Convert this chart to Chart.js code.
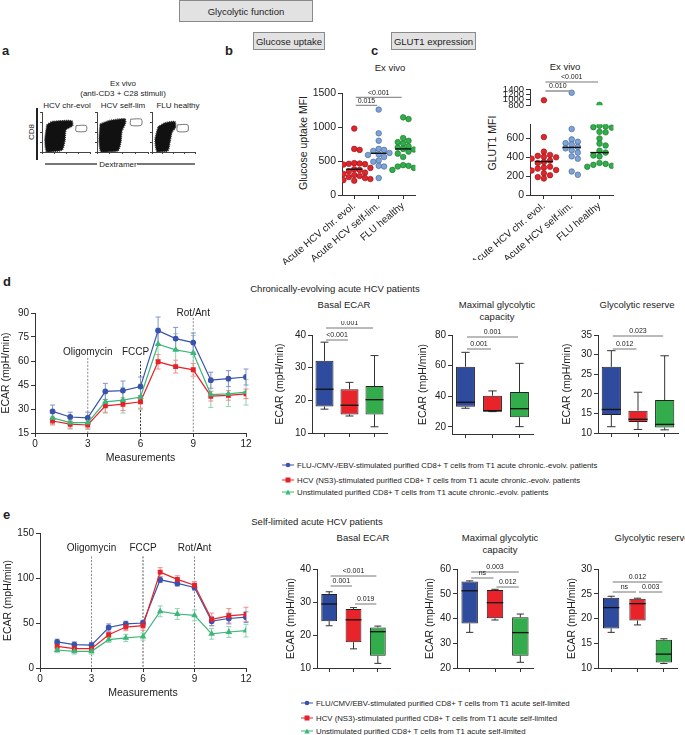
<!DOCTYPE html>
<html>
<head>
<meta charset="utf-8">
<script src="https://cdn.jsdelivr.net/npm/chart.js@4.4.1/dist/chart.umd.min.js"></script>
<style>
  body { margin: 0; background: #fff; width: 685px; height: 735px; position: relative; overflow: hidden;
         font-family: 'Liberation Sans', Arial, Helvetica, sans-serif; color: #222; }
  canvas { position: absolute; }
  .t { position: absolute; transform: translate(-50%, -50%); white-space: nowrap; font-size: 9.5px; }
  .sm { font-size: 8px; }
  .box { position: absolute; background: #e2e2e2; border: 1px solid #8a8a8a; box-sizing: border-box;
         font-size: 9.5px; display: flex; align-items: center; justify-content: center; }
  .L { position: absolute; font-weight: bold; font-size: 13px; transform: translateY(-50%); }
  .rot { transform: translate(-50%, -50%) rotate(-90deg); }
  .lg { position: absolute; font-size: 7.8px; white-space: nowrap; display: flex; align-items: center; transform: translateY(-50%); }
  .lg svg { margin-right: 3px; }
  .bar { position: absolute; background: #777; height: 2px; }
</style>
</head>
<body>
<div class="box" style="left:179px;top:0px;width:134px;height:22px">Glycolytic function</div>
<div class="box" style="left:253px;top:32px;width:72px;height:18px">Glucose uptake</div>
<div class="box" style="left:391px;top:32px;width:85px;height:18px">GLUT1 expression</div>

<div class="L" style="left:2px;top:50px">a</div>
<div class="L" style="left:225px;top:50px">b</div>
<div class="L" style="left:371px;top:50px">c</div>
<div class="L" style="left:3px;top:281px">d</div>
<div class="L" style="left:3px;top:514px">e</div>

<div class="t sm" style="left:123px;top:83px">Ex vivo</div>
<div class="t sm" style="left:123px;top:93px">(anti-CD3 + C28 stimuli)</div>
<div class="t sm" style="left:67px;top:105px">HCV chr-evol</div>
<div class="t sm" style="left:123px;top:105px">HCV self-lim</div>
<div class="t sm" style="left:178px;top:105px">FLU healthy</div>
<div class="t sm rot" style="left:31px;top:132px">CD8</div>
<div style="position:absolute;left:36px;top:108px;width:1.5px;height:52px;background:#222"></div>
<div class="bar" style="left:45px;top:163px;width:52px"></div>
<div class="bar" style="left:137px;top:163px;width:58px"></div>
<div class="t sm" style="left:118px;top:164px">Dextramer</div>

<div class="t" style="left:390px;top:67px">Ex vivo</div>
<div class="t" style="left:565px;top:66px">Ex vivo</div>
<div class="t rot" style="left:303px;top:143px;font-size:10.5px">Glucose uptake MFI</div>
<div class="t rot" style="left:492px;top:143px;font-size:10.5px">GLUT1 MFI</div>

<div class="t" style="left:335px;top:288px">Chronically-evolving acute HCV patients</div>
<div class="t" style="left:344px;top:304px">Basal ECAR</div>
<div class="t" style="left:497px;top:304px">Maximal glycolytic</div>
<div class="t" style="left:497px;top:316px">capacity</div>
<div class="t" style="left:637px;top:304px">Glycolytic reserve</div>

<div class="t" style="left:317px;top:521px">Self-limited acute HCV patients</div>
<div class="t" style="left:363px;top:537px">Basal ECAR</div>
<div class="t" style="left:500px;top:537px">Maximal glycolytic</div>
<div class="t" style="left:500px;top:549px">capacity</div>
<div class="t" style="left:652px;top:537px">Glycolytic reserve</div>

<script>
// ---------- data ----------
const groupNames = ['Acute HCV chr. evol.', 'Acute HCV self-lim.', 'FLU healthy'];

// b: glucose uptake MFI
const glucoseChr = [980, 680, 665, 470, 465, 460, 455, 450, 400, 380, 370, 350, 330, 310, 295, 280, 265, 250, 235, 220, 210];
const glucoseSelf = [1260, 910, 800, 680, 665, 650, 620, 600, 590, 560, 510, 490, 430, 420, 250];
const glucoseFlu = [1145, 1120, 840, 800, 780, 760, 720, 700, 680, 670, 640, 610, 560, 440, 430, 420, 400, 370];
const glucoseMedian = [380, 615, 680];
const glucoseTicks = [0, 500, 1000, 1500];
const glucoseP = ['<0.001', '0.015'];

// c: GLUT1 MFI
const glutChr = [980, 615, 460, 425, 415, 405, 400, 385, 365, 350, 340, 300, 290, 280, 265, 260, 230, 210, 190, 175];
const glutSelf = [1260, 700, 590, 565, 550, 535, 510, 495, 475, 450, 410, 385, 250, 215];
const glutFlu = [810, 735, 725, 720, 715, 670, 665, 600, 545, 525, 470, 450, 420, 410, 340, 330, 320, 310, 300, 290];
const glutMedian = [355, 505, 450];
const glutTicksHigh = [800, 1000, 1200, 1400];
const glutTicksLow = [0, 200, 400, 600];
const glutP = ['<0.001', '0.010'];

// d / e: ECAR time course
const measurements = [1, 2, 3, 4, 5, 6, 7, 8, 9, 10, 11, 12];
const chrFlu = [28.5, 25, 24.5, 41, 41.5, 44, 79, 74, 71.5, 48, 49, 50];
const chrFluErr = [4, 3, 3.5, 5, 6, 6, 8.5, 7, 6, 5, 5, 5];
const chrHcv = [22.5, 20.5, 20, 32, 33, 34.5, 59.5, 56.5, 54.5, 38, 38.5, 39.5];
const chrHcvErr = [2.5, 2.5, 2.5, 4, 4, 4, 4.5, 4, 4, 3, 3, 3];
const chrUnst = [24.5, 21.5, 21.5, 34.5, 35.5, 37.5, 70.5, 67, 65, 39, 39.5, 40.5];
const chrUnstErr = [4, 4, 4, 7, 8, 8, 10, 10, 11, 8, 8, 8];

const slfFlu = [29, 26, 25.5, 45, 49, 50, 98, 94, 89.5, 52, 55, 56.5];
const slfFluErr = [3, 3, 3, 4, 3, 3, 3, 3, 3, 5, 6, 6];
const slfHcv = [24, 21.5, 21.5, 37, 45.5, 47, 106.5, 98.5, 92, 54, 58, 59.5];
const slfHcvErr = [3, 3, 3, 3, 4, 5, 5, 4, 4, 7, 8, 8];
const slfUnst = [20, 18.5, 18.5, 31.5, 33.5, 35, 63, 60, 58.5, 38, 40, 41.5];
const slfUnstErr = [3, 3, 3, 3, 4, 4, 6, 6, 6, 6, 6, 7];

// box stats: [min, q1, median, q3, max] for FLU, HCV, unstimulated
const chrBasal = [[17.3, 18.1, 23.4, 32.1, 37.8], [15.2, 15.7, 18.5, 23.4, 25.5], [11.9, 15.7, 20.2, 24.4, 33.7]];
const chrMax = [[32.2, 33.2, 36.1, 59.3, 68.7], [30, 30.4, 30.4, 40.4, 43.5], [20.2, 26.3, 31.9, 42.8, 61.5]];
const chrRes = [[11.6, 14.6, 16, 26.9, 31], [10.9, 12.8, 13.5, 15.7, 20.4], [10.8, 11.4, 12.2, 18.4, 29.7]];
const slfBasal = [[22.8, 24.2, 29.4, 32.4, 33.1], [15.8, 17.8, 24.6, 27.9, 28.3], [11.4, 13.7, 21, 22.3, 22.7]];
const slfMax = [[34.4, 38, 51.2, 54.9, 55.2], [39.4, 40.1, 46.4, 51.5, 51.8], [22.3, 25, 34.3, 40.5, 41.8]];
const slfRes = [[17.2, 18, 22.2, 24.2, 24.5], [18.7, 19.6, 23, 24, 24.1], [10.9, 11.1, 12.8, 15.7, 15.9]];
const chrBasalP = ['0.001', '<0.001'];
const chrMaxP = ['0.001', '0.001'];
const chrResP = ['0.023', '0.012'];
const slfBasalP = ['<0.001', '0.001', '0.019'];
const slfMaxP = ['0.003', 'ns', '0.012'];
const slfResP = ['0.012', 'ns', '0.003'];

const chrLegend = ['FLU-/CMV-/EBV-stimulated purified CD8+ T cells from T1 acute chronic.-evolv. patients',
  'HCV (NS3)-stimulated purified CD8+ T cells from T1 acute chronic.-evolv. patients',
  'Unstimulated purified CD8+ T cells from T1 acute chronic.-evolv. patients'];
const slfLegend = ['FLU/CMV/EBV-stimulated purified CD8+ T cells from T1 acute self-limited',
  'HCV (NS3)-stimulated purified CD8+ T cells from T1 acute self-limited',
  'Unstimulated purified CD8+ T cells from T1 acute self-limited'];

// a: outlines of the flow density clouds and gates (0-100 axis units)
const flowChrCloud = [[10, 68], [21, 76], [62, 78], [64, 66], [50, 55], [48, 30], [42, 5], [10, 0], [6, 30], [10, 68]];
const flowChrGate = [[71, 66], [92, 66], [92, 52], [71, 52], [71, 66]];
const flowSelfCloud = [[6, 70], [25, 79], [55, 83], [56, 72], [49, 52], [47, 25], [41, 3], [8, 0], [4, 30], [6, 70]];
const flowSelfGate = [[66, 82], [87, 82], [87, 67], [66, 67], [66, 82]];
const flowFluCloud = [[14, 63], [30, 73], [53, 76], [55, 62], [47, 50], [42, 25], [37, 3], [12, 0], [7, 30], [14, 63]];
const flowFluGate = [[59, 68], [83, 68], [83, 52], [59, 52], [59, 68]];

// ---------- styling ----------
const lineColors = ['#3953ad', '#e62229', '#3cb77a'];
const errColors = ['#8592d2', '#f08c8c', '#8ed4b0'];
const boxColors = ['#2f4b9e', '#e8232a', '#33ad4b'];
const dotFill = ['#e2252b', '#7ea3d6', '#2fae4a'];
const dotEdge = ['#8a1216', '#3f5f8f', '#1b6e2c'];

Chart.defaults.font.family = "'Liberation Sans', Arial, Helvetica, sans-serif";
Chart.defaults.color = '#222';
Chart.defaults.animation = false;
Chart.defaults.plugins.legend.display = false;
Chart.defaults.plugins.tooltip.enabled = false;

function makeCanvas(left, top, w, h) {
  const c = document.createElement('canvas');
  c.width = w; c.height = h;
  c.style.left = left + 'px'; c.style.top = top + 'px';
  document.body.appendChild(c);
  return c.getContext('2d');
}

function yAxis(min, max, step, width, title, fontSize, tickVals) {
  const axis = {
    min: min, max: max,
    ticks: { stepSize: step, includeBounds: false, autoSkip: false, padding: 2, font: { size: fontSize || 10 },
             color: '#222', callback: v => String(v) },
    grid: { drawOnChartArea: false, tickLength: 4, color: '#333' },
    border: { display: true, color: '#333', width: 1 },
    title: title ? { display: true, text: title, padding: 0, font: { size: 10.5 }, color: '#222' } : { display: false },
    afterFit: s => { s.width = width; }
  };
  if (tickVals) axis.afterBuildTicks = s => { s.ticks = tickVals.map(v => ({ value: v })); };
  return axis;
}

// ---------- plugins ----------
const errorBars = {
  id: 'errorBars',
  beforeDatasetsDraw(chart) {
    const { ctx, scales: { y } } = chart;
    chart.data.datasets.forEach((ds, i) => {
      if (!ds.err) return;
      const meta = chart.getDatasetMeta(i);
      ctx.save();
      ctx.strokeStyle = ds.errColor; ctx.lineWidth = 1;
      meta.data.forEach((pt, j) => {
        const v = ds.data[j].y, e = ds.err[j];
        const t = y.getPixelForValue(v + e), b = y.getPixelForValue(v - e);
        ctx.beginPath();
        ctx.moveTo(pt.x, t); ctx.lineTo(pt.x, b);
        ctx.moveTo(pt.x - 2.5, t); ctx.lineTo(pt.x + 2.5, t);
        ctx.moveTo(pt.x - 2.5, b); ctx.lineTo(pt.x + 2.5, b);
        ctx.stroke();
      });
      ctx.restore();
    });
  }
};

const injections = {
  id: 'injections',
  beforeDatasetsDraw(chart, args, opts) {
    const { ctx, chartArea, scales: { x, y } } = chart;
    (opts.items || []).forEach(it => {
      const px = x.getPixelForValue(it.at);
      ctx.save();
      ctx.strokeStyle = it.color; ctx.lineWidth = 1; ctx.setLineDash([2, 1.5]);
      ctx.beginPath(); ctx.moveTo(px, y.getPixelForValue(it.top)); ctx.lineTo(px, chartArea.bottom); ctx.stroke();
      ctx.setLineDash([]);
      ctx.fillStyle = '#222'; ctx.font = "10px 'Liberation Sans', Arial"; ctx.textAlign = 'center'; ctx.textBaseline = 'middle';
      ctx.fillText(it.label, px + (it.dx || 0), y.getPixelForValue(it.labelAt));
      ctx.restore();
    });
  }
};

const boxPlugin = {
  id: 'boxes',
  beforeDatasetsDraw(chart) {
    const { ctx, scales: { y } } = chart;
    const ds = chart.data.datasets[0];
    chart.getDatasetMeta(0).data.forEach((bar, i) => {
      const s = ds.stats[i], cap = bar.width * 0.22;
      ctx.save(); ctx.strokeStyle = '#333'; ctx.lineWidth = 1;
      ctx.beginPath();
      ctx.moveTo(bar.x, y.getPixelForValue(s[3])); ctx.lineTo(bar.x, y.getPixelForValue(s[4]));
      ctx.moveTo(bar.x - cap, y.getPixelForValue(s[4])); ctx.lineTo(bar.x + cap, y.getPixelForValue(s[4]));
      ctx.moveTo(bar.x, y.getPixelForValue(s[1])); ctx.lineTo(bar.x, y.getPixelForValue(s[0]));
      ctx.moveTo(bar.x - cap, y.getPixelForValue(s[0])); ctx.lineTo(bar.x + cap, y.getPixelForValue(s[0]));
      ctx.stroke(); ctx.restore();
    });
  },
  afterDatasetsDraw(chart) {
    const { ctx, scales: { y } } = chart;
    const ds = chart.data.datasets[0];
    chart.getDatasetMeta(0).data.forEach((bar, i) => {
      const m = y.getPixelForValue(ds.stats[i][2]);
      ctx.save(); ctx.strokeStyle = '#111'; ctx.lineWidth = 1.3;
      ctx.beginPath(); ctx.moveTo(bar.x - bar.width / 2, m); ctx.lineTo(bar.x + bar.width / 2, m); ctx.stroke();
      ctx.restore();
    });
  }
};

const brackets = {
  id: 'brackets',
  afterDraw(chart, args, opts) {
    const { ctx, chartArea, scales: { x } } = chart;
    (opts.items || []).forEach(b => {
      const x1 = x.getPixelForValue(b.from) + 1.5, x2 = x.getPixelForValue(b.to) - 1.5;
      const yy = chartArea.top + b.dy;
      ctx.save();
      ctx.strokeStyle = b.color || '#666'; ctx.lineWidth = b.color ? 1.6 : 0.9;
      ctx.beginPath(); ctx.moveTo(x1, yy); ctx.lineTo(x2, yy); ctx.stroke();
      ctx.fillStyle = '#222'; ctx.font = "7px 'Liberation Sans', Arial"; ctx.textAlign = 'center'; ctx.textBaseline = 'bottom';
      ctx.fillText(b.text, (x1 + x2) / 2, yy - 1);
      ctx.restore();
    });
  }
};

const medians = {
  id: 'medians',
  afterDatasetsDraw(chart) {
    const { ctx, scales: { x, y } } = chart;
    chart.data.datasets.forEach(ds => {
      if (ds.median == null || ds.median < y.min || ds.median > y.max) return;
      const yy = y.getPixelForValue(ds.median);
      ctx.save(); ctx.strokeStyle = '#111'; ctx.lineWidth = 1.4;
      ctx.beginPath();
      ctx.moveTo(x.getPixelForValue(ds.center - 0.33), yy); ctx.lineTo(x.getPixelForValue(ds.center + 0.33), yy);
      ctx.stroke(); ctx.restore();
    });
  }
};

// simple deterministic beeswarm: place each value at the first free slot beside the centre
function swarm(values, center, dv, step) {
  const placed = [];
  return values.map(v => {
    for (let k = 0; k < 11; k++) {
      const x = center + (k % 2 ? 1 : -1) * Math.ceil(k / 2) * step;
      if (!placed.some(p => Math.abs(p.x - x) < step * 0.9 && Math.abs(p.y - v) < dv)) {
        placed.push({ x: x, y: v });
        return { x: x, y: v };
      }
    }
    return { x: center, y: v };
  });
}

// ---------- a: flow plots ----------
function flowPlot(left, w, cloud, gate) {
  new Chart(makeCanvas(left, 110, w, 44), {
    type: 'scatter',
    data: {
      datasets: [
        { data: cloud.map(p => ({ x: p[0], y: p[1] })), showLine: true, fill: 'shape', tension: 0.2,
          backgroundColor: '#111', borderColor: '#333', borderWidth: 1.5, borderDash: [1, 1], pointRadius: 0 },
        { data: gate.map(p => ({ x: p[0], y: p[1] })), showLine: true, fill: false, tension: 0.25,
          borderColor: '#555', borderWidth: 0.8, pointRadius: 0 }
      ]
    },
    options: {
      responsive: false,
      layout: { padding: { top: 2, right: 2 } },
      scales: {
        x: { min: 0, max: 100, ticks: { display: false, stepSize: 25 }, grid: { drawOnChartArea: false, tickLength: 2, color: '#444' },
             border: { color: '#444' }, afterFit: s => { s.height = 2; } },
        y: { min: 0, max: 100, ticks: { display: false, stepSize: 25 }, grid: { drawOnChartArea: false, tickLength: 2, color: '#444' },
             border: { color: '#444' }, afterFit: s => { s.width = 2; } }
      }
    }
  });
}
flowPlot(40, 52, flowChrCloud, flowChrGate);
flowPlot(95, 55, flowSelfCloud, flowSelfGate);
flowPlot(150, 47, flowFluCloud, flowFluGate);

// ---------- b / c: dot plots ----------
function categoryX(height, show) {
  return {
    type: 'linear', min: 0.5, max: 3.5, display: show,
    afterBuildTicks: s => { s.ticks = [1, 2, 3].map(v => ({ value: v })); },
    ticks: { autoSkip: false, minRotation: 40, maxRotation: 40, padding: 1,
             font: { size: 10 }, color: '#222', callback: v => groupNames[Math.round(v) - 1] },
    grid: { drawOnChartArea: false, tickLength: 4, color: '#333' },
    border: { display: true, color: '#333' },
    afterFit: s => { s.height = height; }
  };
}
function dotSets(groups, medianArr, dv, lo, hi) {
  return groups.map((vals, i) => ({
    data: swarm(vals.filter(v => v >= lo && v <= hi), i + 1, dv, 0.22),
    center: i + 1, median: medianArr[i],
    backgroundColor: dotFill[i], borderColor: dotEdge[i], borderWidth: 0.6, pointRadius: 2.8
  }));
}

new Chart(makeCanvas(262, 85, 158, 180), {
  type: 'scatter',
  data: { datasets: dotSets([glucoseChr, glucoseSelf, glucoseFlu], glucoseMedian, 80, 0, 1500) },
  options: {
    responsive: false,
    layout: { padding: { top: 8, right: 3 } },
    scales: { x: categoryX(70, true), y: yAxis(0, 1500, 500, 80, null, 10.5, glucoseTicks) },
    plugins: { brackets: { items: [
      { from: 1, to: 3, text: glucoseP[0], dy: 4 },
      { from: 1, to: 2, text: glucoseP[1], dy: 12 }] } }
  },
  plugins: [medians, brackets]
});

// c upper (broken axis part)
new Chart(makeCanvas(450, 72, 168, 41), {
  type: 'scatter',
  data: { datasets: dotSets([glutChr, glutSelf, glutFlu], glutMedian, 55, 790, 1400) },
  options: {
    responsive: false,
    layout: { padding: { top: 17, right: 3 } },
    scales: { x: categoryX(0, false), y: yAxis(790, 1400, 200, 80, null, 9.5, glutTicksHigh) },
    plugins: { brackets: { items: [
      { from: 1, to: 3, text: glutP[0], dy: -7 },
      { from: 1, to: 2, text: glutP[1], dy: 2, color: '#999' }] } }
  },
  plugins: [brackets]
});
// c lower
new Chart(makeCanvas(450, 116, 168, 144), {
  type: 'scatter',
  data: { datasets: dotSets([glutChr, glutSelf, glutFlu], glutMedian, 55, 0, 750) },
  options: {
    responsive: false,
    layout: { padding: { top: 4, right: 3 } },
    scales: { x: categoryX(65, true), y: yAxis(0, 750, 200, 80, null, 10.5, glutTicksLow) }
  },
  plugins: [medians]
});

// ---------- d / e: ECAR time courses ----------
function ecarChart(left, top, w, h, yw, pt, series, yMin, yMax, step, inj) {
  const shapes = ['circle', 'rect', 'triangle'];
  const radii = [2.3, 2.6, 2.6];
  new Chart(makeCanvas(left, top, w, h), {
    type: 'line',
    data: {
      datasets: series.map((s, i) => ({
        data: measurements.map((m, j) => ({ x: m, y: s[0][j] })), err: s[1], errColor: errColors[i],
        borderColor: lineColors[i], backgroundColor: lineColors[i], borderWidth: 1.2,
        pointStyle: shapes[i], pointRadius: radii[i], tension: 0
      })).reverse()
    },
    options: {
      responsive: false,
      layout: { padding: { top: pt, right: 8 } },
      scales: {
        x: { type: 'linear', min: 0, max: 12,
             ticks: { stepSize: 3, font: { size: 10 }, color: '#222', padding: 1 },
             grid: { drawOnChartArea: false, tickLength: 4, color: '#333' },
             border: { display: true, color: '#333' },
             title: { display: true, text: 'Measurements', padding: 0, font: { size: 10.5 }, color: '#222' },
             afterFit: s => { s.height = 31; } },
        y: yAxis(yMin, yMax, step, yw, 'ECAR (mpH/min)', 10)
      },
      plugins: { injections: { items: inj } }
    },
    plugins: [injections, errorBars]
  });
}

ecarChart(0, 303, 254, 161, 35, 10,
  [[chrFlu, chrFluErr], [chrHcv, chrHcvErr], [chrUnst, chrUnstErr]], 15, 90, 15,
  [{ at: 3, label: 'Oligomycin', top: 62, labelAt: 65.6, color: '#888' },
   { at: 6, label: 'FCCP', top: 60, labelAt: 65.6, color: '#333', dx: -5 },
   { at: 9, label: 'Rot/Ant', top: 87, labelAt: 90, color: '#888' }]);

ecarChart(2, 525, 252, 174, 38, 6,
  [[slfFlu, slfFluErr], [slfHcv, slfHcvErr], [slfUnst, slfUnstErr]], 0, 150, 50,
  [{ at: 3, label: 'Oligomycin', top: 124, labelAt: 133.6, color: '#888' },
   { at: 6, label: 'FCCP', top: 124, labelAt: 133.6, color: '#555' },
   { at: 9, label: 'Rot/Ant', top: 124, labelAt: 133.6, color: '#888' }]);

// ---------- box plots ----------
function boxChart(left, top, w, h, yw, pt, stats, yMin, yMax, step, pct, items) {
  new Chart(makeCanvas(left, top, w, h), {
    type: 'bar',
    data: {
      labels: ['FLU', 'HCV', 'Unst'],
      datasets: [{ data: stats.map(s => [s[1], s[3]]), stats: stats, backgroundColor: boxColors,
                   borderColor: '#222', borderWidth: 1, borderSkipped: false,
                   barPercentage: pct, categoryPercentage: 1 }]
    },
    options: {
      responsive: false,
      layout: { padding: { top: pt, right: 4 } },
      scales: {
        x: { ticks: { display: false }, grid: { offset: false, drawOnChartArea: false, tickLength: 4, color: '#333' },
             border: { display: true, color: '#333' }, afterFit: s => { s.height = 10; } },
        y: yAxis(yMin, yMax, step, yw, 'ECAR (mpH/min)', 10)
      },
      plugins: { brackets: { items: items } }
    },
    plugins: [boxPlugin, brackets]
  });
}

boxChart(274, 321, 117, 122, 38, 14, chrBasal, 10, 40, 10, 0.72,
  [{ from: 0, to: 2, text: chrBasalP[0], dy: -7 }, { from: 0, to: 1, text: chrBasalP[1], dy: 5 }]);
boxChart(417, 321, 120, 123, 35, 14, chrMax, 15.4, 80, 20, 0.7,
  [{ from: 0, to: 2, text: chrMaxP[0], dy: 2 }, { from: 0, to: 1, text: chrMaxP[1], dy: 14 }]);
boxChart(561, 321, 121, 122, 37, 14, chrRes, 10, 35, 5, 0.72,
  [{ from: 0, to: 2, text: chrResP[0], dy: 1 }, { from: 0, to: 1, text: chrResP[1], dy: 14 }]);

boxChart(285, 561, 109, 117, 32, 8, slfBasal, 10, 40, 10, 0.65,
  [{ from: 0, to: 2, text: slfBasalP[0], dy: 7 }, { from: 0, to: 1, text: slfBasalP[1], dy: 17 },
   { from: 1, to: 2, text: slfBasalP[2], dy: 35 }]);
boxChart(424, 561, 113, 117, 33, 8, slfMax, 20, 60, 10, 0.65,
  [{ from: 0, to: 2, text: slfMaxP[0], dy: 3 }, { from: 0, to: 1, text: slfMaxP[1], dy: 9 },
   { from: 1, to: 2, text: slfMaxP[2], dy: 18 }]);
boxChart(566, 561, 115, 117, 32, 8, slfRes, 10, 30, 5, 0.62,
  [{ from: 0, to: 2, text: slfResP[0], dy: 13 }, { from: 0, to: 1, text: slfResP[1], dy: 23 },
   { from: 1, to: 2, text: slfResP[2], dy: 23 }]);

// ---------- legends ----------
function markerSvg(i) {
  const c = lineColors[i];
  const shape = i === 0 ? `<circle cx="6" cy="3.5" r="2.3" fill="${c}"/>`
    : i === 1 ? `<rect x="3.5" y="1" width="5" height="5" fill="${c}"/>`
    : `<polygon points="6,1 8.7,6 3.3,6" fill="${c}"/>`;
  return `<svg width="12" height="7"><line x1="0" y1="3.5" x2="12" y2="3.5" stroke="${c}" stroke-width="1.2"/>${shape}</svg>`;
}
function legend(texts, left, tops) {
  texts.forEach((t, i) => {
    const d = document.createElement('div');
    d.className = 'lg';
    d.style.left = left + 'px'; d.style.top = tops[i] + 'px';
    d.innerHTML = markerSvg(i) + t;
    document.body.appendChild(d);
  });
}
legend(chrLegend, 282, [465, 480, 492]);
legend(slfLegend, 301, [703, 718, 731]);
</script>
</body>
</html>
